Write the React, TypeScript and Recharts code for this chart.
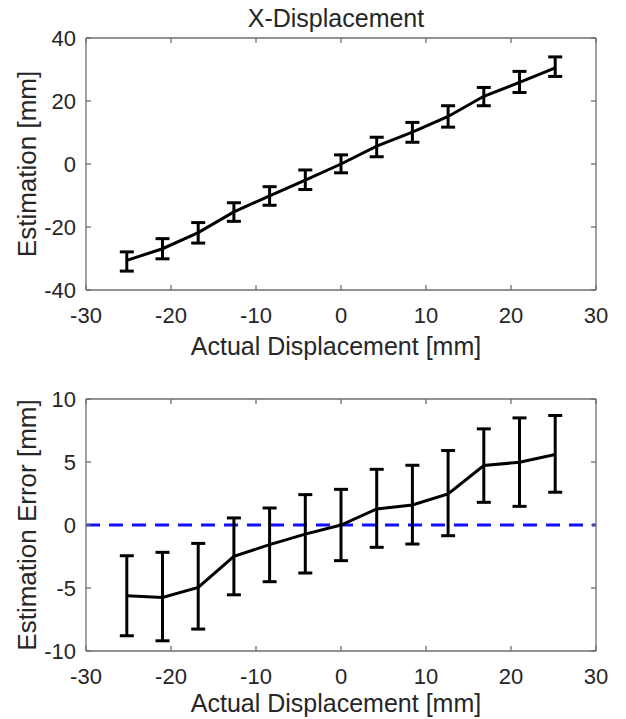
import React from 'react';
import { LineChart, Line, XAxis, YAxis, ErrorBar, ReferenceLine } from 'recharts';

const actual = [-25.2, -21, -16.8, -12.6, -8.4, -4.2, 0, 4.2, 8.4, 12.6, 16.8, 21, 25.2];

const estMean = [-30.6, -26.9, -21.8, -15.2, -10.1, -5.1, 0, 5.7, 10.1, 15.1, 21.5, 25.9, 30.5];
const estLow = [-34.0, -30.1, -25.1, -18.2, -13.1, -8.1, -2.8, 2.3, 6.9, 11.7, 18.5, 22.7, 27.8];
const estHigh = [-27.9, -23.7, -18.6, -12.3, -7.2, -1.9, 2.9, 8.5, 13.2, 18.5, 24.3, 29.4, 34.0];

const errMean = [-5.62, -5.75, -4.95, -2.49, -1.56, -0.72, 0, 1.27, 1.59, 2.46, 4.72, 4.98, 5.59];
const errLow = [-8.79, -9.19, -8.26, -5.54, -4.5, -3.81, -2.83, -1.77, -1.51, -0.85, 1.8, 1.48, 2.6];
const errHigh = [-2.44, -2.17, -1.46, 0.56, 1.35, 2.41, 2.83, 4.42, 4.74, 5.91, 7.63, 8.5, 8.69];

const xTicks = [-30, -20, -10, 0, 10, 20, 30];
const estTicks = [-40, -20, 0, 20, 40];
const errTicks = [-10, -5, 0, 5, 10];

const titleText = 'X-Displacement';
const xLabel = 'Actual Displacement [mm]';
const yLabelTop = 'Estimation [mm]';
const yLabelBottom = 'Estimation Error [mm]';

const build = (mean: number[], low: number[], high: number[]) =>
  actual.map((x, i) => ({ x, y: mean[i], e: [mean[i] - low[i], high[i] - mean[i]] }));

const estData = build(estMean, estLow, estHigh);
const errData = build(errMean, errLow, errHigh);

const FONT = '"Liberation Sans", Arial, Helvetica, sans-serif';
const TEXT = '#262626';
const AXIS = '#6e6e6e';

type PanelProps = {
  data: { x: number; y: number; e: number[] }[];
  yTicks: number[];
  yDomain: [number, number];
  height: number;
  zeroLine?: boolean;
};

function Panel({ data, yTicks, yDomain, height, zeroLine }: PanelProps) {
  const tickStyle = { fill: TEXT, fontSize: 22, fontFamily: FONT };
  return (
    <LineChart
      width={626}
      height={height}
      data={data}
      margin={{ top: 37, right: 29, bottom: 0, left: 0 }}
    >
      <XAxis
        xAxisId="b"
        dataKey="x"
        type="number"
        domain={[-30, 30]}
        ticks={xTicks}
        interval={0}
        height={height - 290}
        tickSize={-5}
        tickMargin={22}
        stroke={AXIS}
        strokeWidth={1.3}
        tick={tickStyle}
        allowDataOverflow
      />
      <XAxis
        xAxisId="t"
        orientation="top"
        dataKey="x"
        type="number"
        domain={[-30, 30]}
        ticks={xTicks}
        interval={0}
        height={1}
        tickSize={-5}
        stroke={AXIS}
        strokeWidth={1.3}
        tickFormatter={() => ''}
        allowDataOverflow
      />
      <YAxis
        yAxisId="l"
        type="number"
        domain={yDomain}
        ticks={yTicks}
        interval={0}
        width={86}
        tickSize={-5}
        tickMargin={15}
        stroke={AXIS}
        strokeWidth={1.3}
        tick={tickStyle}
        allowDataOverflow
      />
      <YAxis
        yAxisId="r"
        orientation="right"
        type="number"
        domain={yDomain}
        ticks={yTicks}
        interval={0}
        width={1}
        tickSize={-5}
        stroke={AXIS}
        strokeWidth={1.3}
        tickFormatter={() => ''}
        allowDataOverflow
      />
      {zeroLine && (
        <ReferenceLine
          xAxisId="b"
          yAxisId="l"
          y={0}
          stroke="#1010ff"
          strokeWidth={3}
          strokeDasharray="14 9"
        />
      )}
      <Line
        xAxisId="b"
        yAxisId="l"
        dataKey="y"
        type="linear"
        stroke="#000"
        strokeWidth={3}
        dot={false}
        activeDot={false}
        isAnimationActive={false}
      >
        <ErrorBar dataKey="e" direction="y" width={7} stroke="#000" strokeWidth={3} isAnimationActive={false} />
      </Line>
    </LineChart>
  );
}

export default function App() {
  return (
    <div
      style={{
        position: 'absolute',
        left: 0,
        top: 0,
        width: 626,
        height: 719,
        background: '#fff',
        overflow: 'hidden',
        fontFamily: FONT,
      }}
    >
      <div style={{ position: 'absolute', left: 0, top: 0 }}>
        <Panel data={estData} yTicks={estTicks} yDomain={[-40, 40]} height={361} />
      </div>
      <div style={{ position: 'absolute', left: 0, top: 361 }}>
        <Panel data={errData} yTicks={errTicks} yDomain={[-10, 10]} height={358} zeroLine />
      </div>
      <svg
        width={626}
        height={719}
        style={{ position: 'absolute', left: 0, top: 0, pointerEvents: 'none' }}
        fontFamily={FONT}
        fill={TEXT}
      >
        <text x={336} y={26.5} textAnchor="middle" fontSize={25}>{titleText}</text>
        <text x={336} y={355} textAnchor="middle" fontSize={25}>{xLabel}</text>
        <text x={336} y={712} textAnchor="middle" fontSize={25}>{xLabel}</text>
        <text transform="translate(36,164) rotate(-90)" textAnchor="middle" fontSize={26}>{yLabelTop}</text>
        <text transform="translate(36,525) rotate(-90)" textAnchor="middle" fontSize={26}>{yLabelBottom}</text>
      </svg>
    </div>
  );
}
